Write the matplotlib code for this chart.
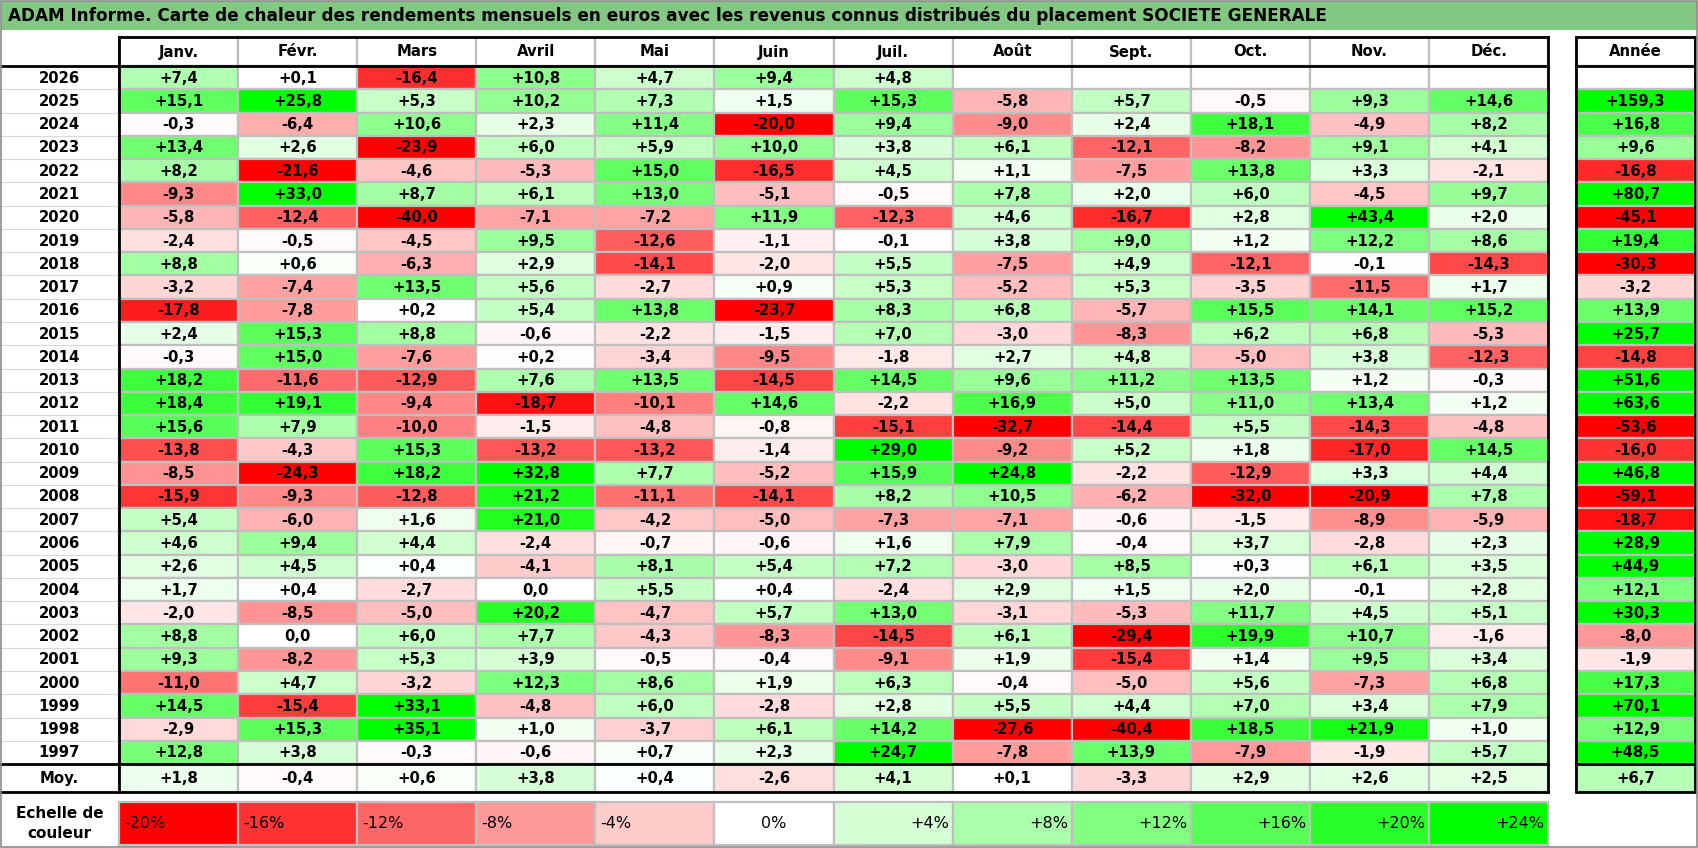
import numpy as np
import matplotlib
matplotlib.use("Agg")
import matplotlib.pyplot as plt
from matplotlib.patches import Rectangle

# --- data ---
title = ("ADAM Informe. Carte de chaleur des rendements mensuels en euros avec les "
         "revenus connus distribués du placement SOCIETE GENERALE")
months = ["Janv.", "Févr.", "Mars", "Avril", "Mai", "Juin",
          "Juil.", "Août", "Sept.", "Oct.", "Nov.", "Déc."]
years = list(range(2026, 1996, -1))
N = None
monthly = [
    [7.4, 0.1, -16.4, 10.8, 4.7, 9.4, 4.8, N, N, N, N, N],
    [15.1, 25.8, 5.3, 10.2, 7.3, 1.5, 15.3, -5.8, 5.7, -0.5, 9.3, 14.6],
    [-0.3, -6.4, 10.6, 2.3, 11.4, -20.0, 9.4, -9.0, 2.4, 18.1, -4.9, 8.2],
    [13.4, 2.6, -23.9, 6.0, 5.9, 10.0, 3.8, 6.1, -12.1, -8.2, 9.1, 4.1],
    [8.2, -21.6, -4.6, -5.3, 15.0, -16.5, 4.5, 1.1, -7.5, 13.8, 3.3, -2.1],
    [-9.3, 33.0, 8.7, 6.1, 13.0, -5.1, -0.5, 7.8, 2.0, 6.0, -4.5, 9.7],
    [-5.8, -12.4, -40.0, -7.1, -7.2, 11.9, -12.3, 4.6, -16.7, 2.8, 43.4, 2.0],
    [-2.4, -0.5, -4.5, 9.5, -12.6, -1.1, -0.1, 3.8, 9.0, 1.2, 12.2, 8.6],
    [8.8, 0.6, -6.3, 2.9, -14.1, -2.0, 5.5, -7.5, 4.9, -12.1, -0.1, -14.3],
    [-3.2, -7.4, 13.5, 5.6, -2.7, 0.9, 5.3, -5.2, 5.3, -3.5, -11.5, 1.7],
    [-17.8, -7.8, 0.2, 5.4, 13.8, -23.7, 8.3, 6.8, -5.7, 15.5, 14.1, 15.2],
    [2.4, 15.3, 8.8, -0.6, -2.2, -1.5, 7.0, -3.0, -8.3, 6.2, 6.8, -5.3],
    [-0.3, 15.0, -7.6, 0.2, -3.4, -9.5, -1.8, 2.7, 4.8, -5.0, 3.8, -12.3],
    [18.2, -11.6, -12.9, 7.6, 13.5, -14.5, 14.5, 9.6, 11.2, 13.5, 1.2, -0.3],
    [18.4, 19.1, -9.4, -18.7, -10.1, 14.6, -2.2, 16.9, 5.0, 11.0, 13.4, 1.2],
    [15.6, 7.9, -10.0, -1.5, -4.8, -0.8, -15.1, -32.7, -14.4, 5.5, -14.3, -4.8],
    [-13.8, -4.3, 15.3, -13.2, -13.2, -1.4, 29.0, -9.2, 5.2, 1.8, -17.0, 14.5],
    [-8.5, -24.3, 18.2, 32.8, 7.7, -5.2, 15.9, 24.8, -2.2, -12.9, 3.3, 4.4],
    [-15.9, -9.3, -12.8, 21.2, -11.1, -14.1, 8.2, 10.5, -6.2, -32.0, -20.9, 7.8],
    [5.4, -6.0, 1.6, 21.0, -4.2, -5.0, -7.3, -7.1, -0.6, -1.5, -8.9, -5.9],
    [4.6, 9.4, 4.4, -2.4, -0.7, -0.6, 1.6, 7.9, -0.4, 3.7, -2.8, 2.3],
    [2.6, 4.5, 0.4, -4.1, 8.1, 5.4, 7.2, -3.0, 8.5, 0.3, 6.1, 3.5],
    [1.7, 0.4, -2.7, 0.0, 5.5, 0.4, -2.4, 2.9, 1.5, 2.0, -0.1, 2.8],
    [-2.0, -8.5, -5.0, 20.2, -4.7, 5.7, 13.0, -3.1, -5.3, 11.7, 4.5, 5.1],
    [8.8, 0.0, 6.0, 7.7, -4.3, -8.3, -14.5, 6.1, -29.4, 19.9, 10.7, -1.6],
    [9.3, -8.2, 5.3, 3.9, -0.5, -0.4, -9.1, 1.9, -15.4, 1.4, 9.5, 3.4],
    [-11.0, 4.7, -3.2, 12.3, 8.6, 1.9, 6.3, -0.4, -5.0, 5.6, -7.3, 6.8],
    [14.5, -15.4, 33.1, -4.8, 6.0, -2.8, 2.8, 5.5, 4.4, 7.0, 3.4, 7.9],
    [-2.9, 15.3, 35.1, 1.0, -3.7, 6.1, 14.2, -27.6, -40.4, 18.5, 21.9, 1.0],
    [12.8, 3.8, -0.3, -0.6, 0.7, 2.3, 24.7, -7.8, 13.9, -7.9, -1.9, 5.7],
]
annual = [N, 159.3, 16.8, 9.6, -16.8, 80.7, -45.1, 19.4, -30.3, -3.2, 13.9, 25.7,
          -14.8, 51.6, 63.6, -53.6, -16.0, 46.8, -59.1, -18.7, 28.9, 44.9, 12.1,
          30.3, -8.0, -1.9, 17.3, 70.1, 12.9, 48.5]
moy = [1.8, -0.4, 0.6, 3.8, 0.4, -2.6, 4.1, 0.1, -3.3, 2.9, 2.6, 2.5]
moy_year = 6.7
scale_steps = [-20, -16, -12, -8, -4, 0, 4, 8, 12, 16, 20, 24]

# --- layout (pixels) ---
W, H = 1698, 848
lab_w = 119
col_w = 119.1
x_ann0, x_ann1 = 1576, 1695
y_head0, y_head1 = 37, 66
row_h = 23.27
y_moy0 = y_head1 + row_h * len(years)
y_moy1 = y_moy0 + 28
y_sc0, y_sc1 = 802, 845
x_end = lab_w + col_w * len(months)

grid_c = "#BFBFBF"
font = ["DejaVu Sans"]
fs = 10.7


def heat(v):
    if v is None:
        return "white"
    if v < 0:
        t = min(-v / 20.0, 1.0)
        return (1.0, 1 - t, 1 - t)
    t = min(v / 24.0, 1.0)
    return (1 - t, 1.0, 1 - t)


def fmt(v):
    if v is None:
        return ""
    if round(v, 1) == 0:
        return "0,0"
    return f"{v:+.1f}".replace(".", ",")


fig = plt.figure(figsize=(W / 100, H / 100), dpi=100)
ax = fig.add_axes([0, 0, 1, 1])
ax.set_xlim(0, W)
ax.set_ylim(H, 0)
ax.axis("off")

# frame + title bar
ax.add_patch(Rectangle((1, 1), W - 2, H - 2, fill=False, ec="#8C8C8C", lw=1.2, zorder=6))
ax.add_patch(Rectangle((1, 1), W - 2, 29, fc="#82C882", ec="none", zorder=1))
ax.text(8, 16, title, fontsize=12.15, fontweight="bold", family=font, va="center", ha="left")


def cell(x, y, w, h, v, text, weight="bold", ha="center", size=fs):
    ax.add_patch(Rectangle((x, y), w, h, fc=heat(v), ec=grid_c, lw=1.6, zorder=2))
    if ha == "center":
        tx = x + w / 2
    elif ha == "left":
        tx = x + 5
    else:
        tx = x + w - 4
    ax.text(tx, y + h / 2 + 0.5, text, ha=ha, va="center", fontsize=size,
            fontweight=weight, family=font, zorder=5)


# header
for j, m in enumerate(months):
    cell(lab_w + j * col_w, y_head0, col_w, y_head1 - y_head0, None, m)
cell(x_ann0, y_head0, x_ann1 - x_ann0, y_head1 - y_head0, None, "Année")

# body
for i, yr in enumerate(years):
    y = y_head1 + i * row_h
    ax.add_line(plt.Line2D([0, lab_w], [y + row_h, y + row_h], color="#D9D9D9", lw=0.8, zorder=1))
    ax.text(lab_w / 2, y + row_h / 2 + 0.5, str(yr), ha="center", va="center",
            fontsize=fs, fontweight="bold", family=font)
    for j, v in enumerate(monthly[i]):
        cell(lab_w + j * col_w, y, col_w, row_h, v, fmt(v))
    cell(x_ann0, y, x_ann1 - x_ann0, row_h, annual[i], fmt(annual[i]))

# average row
ax.text(lab_w / 2, (y_moy0 + y_moy1) / 2 + 0.5, "Moy.", ha="center", va="center",
        fontsize=fs, fontweight="bold", family=font)
for j, v in enumerate(moy):
    cell(lab_w + j * col_w, y_moy0, col_w, y_moy1 - y_moy0, v, fmt(v))
cell(x_ann0, y_moy0, x_ann1 - x_ann0, y_moy1 - y_moy0, moy_year, fmt(moy_year))

# colour scale row
ax.text(lab_w / 2, (y_sc0 + y_sc1) / 2, "Echelle de\ncouleur", ha="center", va="center",
        fontsize=11, fontweight="bold", family=font, linespacing=1.45)
for j, s in enumerate(scale_steps):
    lab = "0%" if s == 0 else f"{s:+d}%"
    ha = "left" if s < 0 else ("center" if s == 0 else "right")
    cell(lab_w + j * col_w, y_sc0, col_w, y_sc1 - y_sc0, s, lab, weight="normal", ha=ha, size=11.5)

# thick borders
k = dict(color="black", lw=2.0, zorder=4, solid_capstyle="projecting")
ax.plot([lab_w, x_end], [y_head0, y_head0], **k)
for yy in (y_head1, y_moy0, y_moy1):
    ax.plot([0, x_end], [yy, yy], **k)
for xx in (lab_w, x_end):
    ax.plot([xx, xx], [y_head0, y_moy1], **k)
ax.add_patch(Rectangle((x_ann0, y_head0), x_ann1 - x_ann0, y_moy1 - y_head0,
                       fill=False, ec="black", lw=2.0, zorder=4))
for yy in (y_head1, y_moy0):
    ax.plot([x_ann0, x_ann1], [yy, yy], **k)

fig.savefig("out.png", dpi=100)
